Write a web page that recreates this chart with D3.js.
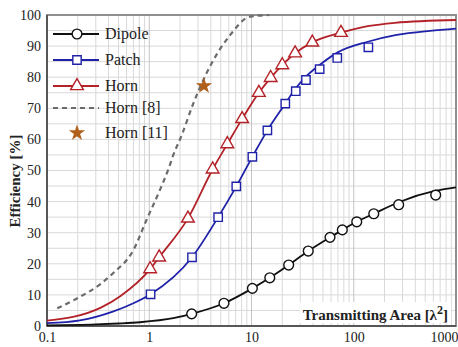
<!DOCTYPE html>
<html>
<head>
<meta charset="utf-8">
<script src="https://cdn.jsdelivr.net/npm/d3@7"></script>
<style>
  body { margin: 0; background: #fff; }
  svg { display: block; }
  svg text { font-family: 'Liberation Serif', 'Times New Roman', Times, serif !important; }
</style>
</head>
<body>
<svg id="chart" width="458" height="347"></svg>
<script>
// x values are transmitting area in lambda^2, y values are efficiency in %
var dipoleCurveX = [0.1, 0.3, 0.5, 0.81, 1.72, 2.6, 5.38, 10.2, 15.1, 23.1, 35.9, 58.6, 77.3, 107, 157, 275, 633, 1000]
var dipoleCurveY = [0.2, 0.5, 0.8, 1.2, 2.5, 3.9, 7.3, 12.1, 15.5, 19.6, 24.1, 28.5, 30.9, 33.5, 36.1, 39.8, 43.5, 44.6]
var dipoleMarkX = [2.6, 5.38, 10.2, 15.1, 23.1, 35.9, 58.6, 77.3, 107, 157, 275, 633]
var dipoleMarkY = [3.9, 7.3, 12.1, 15.5, 19.6, 24.1, 28.5, 30.9, 33.5, 36.1, 39.0, 42.1]

var patchCurveX = [0.1, 0.21, 0.44, 0.7, 1.03, 2.62, 4.72, 7.1, 10.2, 14.3, 21.4, 26.6, 34.1, 46.3, 69, 137, 263, 557, 1000]
var patchCurveY = [0.9, 1.8, 4.6, 7.3, 10.2, 22.1, 35.0, 44.9, 54.4, 62.9, 71.5, 76.1, 80.2, 83.9, 87.9, 91.4, 93.6, 94.9, 95.6]
var patchMarkX = [1.03, 2.62, 4.72, 7.1, 10.2, 14.3, 21.4, 27.1, 34.1, 46.4, 69, 139]
var patchMarkY = [10.2, 22.1, 35.0, 44.9, 54.4, 62.9, 71.5, 75.5, 79.1, 82.6, 86.2, 89.6]

var hornCurveX = [0.1, 0.34, 0.52, 1.02, 1.25, 2.39, 4.17, 5.8, 8.1, 11.8, 15.4, 20, 26.7, 39.3, 75, 137, 252, 1000]
var hornCurveY = [1.7, 6.0, 9.6, 18.3, 22.1, 34.6, 50.4, 58.5, 66.6, 75.0, 79.8, 83.9, 87.7, 91.2, 94.3, 96.4, 97.5, 98.4]
var hornMarkX = [1.02, 1.25, 2.39, 4.17, 5.8, 8.1, 11.8, 15.4, 20, 26.7, 39.3, 75]
var hornMarkY = [18.3, 22.1, 34.6, 50.4, 58.5, 66.6, 75.0, 79.8, 83.9, 87.7, 91.2, 94.3]

var horn8X = [0.126, 0.2, 0.34, 0.44, 0.7, 0.94, 1.27, 1.53, 1.72, 2.08, 2.7, 4.08, 6.2, 9.7, 15]
var horn8Y = [5.7, 9.0, 13.7, 16.9, 24.4, 34.1, 43.7, 50.2, 55.0, 61.4, 71.6, 84.5, 93.6, 99.5, 100]

var horn11X = [3.43]
var horn11Y = [77.2]

var xTicks = [0.1, 1, 10, 100, 1000]
var xTickLabels = ['0.1', '1', '10', '100', '1000']
var yTicks = [0, 10, 20, 30, 40, 50, 60, 70, 80, 90, 100]
var legendNames = ['Dipole', 'Patch', 'Horn', 'Horn [8]', 'Horn [11]']

var margin = { top: 15, right: 2, bottom: 21, left: 47 }
var width = 458 - margin.left - margin.right
var height = 347 - margin.top - margin.bottom
var serif = "'Liberation Serif', 'Times New Roman', serif"

var svg = d3.select('#chart')
var g = svg.append('g').attr('transform', 'translate(' + margin.left + ',' + margin.top + ')')

var x = d3.scaleLog().domain([0.1, 1000]).range([0, width])
var y = d3.scaleLinear().domain([0, 100]).range([height, 0])

// grid
var minorX = []
d3.range(-1, 3).forEach(e => {
  for (var k = 2; k <= 9; k++) minorX.push(k * Math.pow(10, e))
})
g.append('g')
  .selectAll('line')
  .data(minorX)
  .enter()
  .append('line')
  .attr('x1', d => x(d)).attr('x2', d => x(d))
  .attr('y1', 0).attr('y2', height)
  .attr('stroke', '#d9d9d9').attr('stroke-width', 1)
g.append('g')
  .selectAll('line')
  .data(d3.range(5, 100, 5))
  .enter()
  .append('line')
  .attr('x1', 0).attr('x2', width)
  .attr('y1', d => y(d)).attr('y2', d => y(d))
  .attr('stroke', '#d9d9d9').attr('stroke-width', 1)
g.append('g')
  .selectAll('line')
  .data(xTicks.slice(1, 4))
  .enter()
  .append('line')
  .attr('x1', d => x(d)).attr('x2', d => x(d))
  .attr('y1', 0).attr('y2', height)
  .attr('stroke', '#c4c4c4').attr('stroke-width', 1)

// white box behind the x title (sized later)
var titleBox = g.append('rect').attr('fill', '#fff')

// frame
g.append('rect')
  .attr('x', 0).attr('y', 0).attr('width', width).attr('height', height)
  .attr('fill', 'none').attr('stroke', '#8f8f8f').attr('stroke-width', 2)
g.append('line').attr('x1', 0).attr('x2', 0).attr('y1', 0).attr('y2', height)
  .attr('stroke', '#444').attr('stroke-width', 1.5)
g.append('line').attr('x1', 0).attr('x2', width).attr('y1', height).attr('y2', height)
  .attr('stroke', '#444').attr('stroke-width', 1.5)

// axes labels
var yAxis = d3.axisLeft(y).tickValues(yTicks).tickSize(0).tickPadding(6)
g.append('g').call(yAxis)
  .attr('font-family', serif)
  .call(s => s.select('.domain').remove())
  .selectAll('text')
  .attr('font-size', 14).attr('fill', '#222')

var xAxis = d3.axisBottom(x).tickValues(xTicks).tickFormat((d, i) => xTickLabels[i]).tickSize(0).tickPadding(6)
g.append('g').attr('transform', 'translate(0,' + height + ')').call(xAxis)
  .attr('font-family', serif)
  .call(s => s.select('.domain').remove())
  .selectAll('text')
  .attr('font-size', 14).attr('fill', '#222')
  .attr('text-anchor', (d, i) => i === xTicks.length - 1 ? 'end' : 'middle')
  .attr('dx', (d, i) => i === xTicks.length - 1 ? 2 : 0)

var line = d3.line().x(d => x(d[0])).y(d => y(d[1])).curve(d3.curveMonotoneX)
var zip = (xs, ys) => xs.map((v, i) => [v, ys[i]])

var blue = '#1f22a8'
var red = '#b32228'
var gray = '#6b6b6b'
var star = '#b0601a'

// curves
g.append('path').datum(zip(horn8X, horn8Y)).attr('d', line)
  .attr('fill', 'none').attr('stroke', gray).attr('stroke-width', 2.2).attr('stroke-dasharray', '5,4')
g.append('path').datum(zip(dipoleCurveX, dipoleCurveY)).attr('d', line)
  .attr('fill', 'none').attr('stroke', '#111').attr('stroke-width', 1.8)
g.append('path').datum(zip(patchCurveX, patchCurveY)).attr('d', line)
  .attr('fill', 'none').attr('stroke', blue).attr('stroke-width', 1.8)
g.append('path').datum(zip(hornCurveX, hornCurveY)).attr('d', line)
  .attr('fill', 'none').attr('stroke', red).attr('stroke-width', 1.8)

// markers
var circleSym = d3.symbol().type(d3.symbolCircle).size(75)
var squareSym = d3.symbol().type(d3.symbolSquare).size(70)
var triSym = d3.symbol().type(d3.symbolTriangle).size(70)
var starSym = d3.symbol().type(d3.symbolStar).size(45)

function markers(data, sym, stroke, fill) {
  g.append('g')
    .selectAll('path')
    .data(data)
    .enter()
    .append('path')
    .attr('transform', d => 'translate(' + x(d[0]) + ',' + y(d[1]) + ')')
    .attr('d', sym)
    .attr('fill', fill).attr('stroke', stroke).attr('stroke-width', 1.4)
}
markers(zip(dipoleMarkX, dipoleMarkY), circleSym, '#111', '#fff')
markers(zip(patchMarkX, patchMarkY), squareSym, blue, '#fff')
markers(zip(hornMarkX, hornMarkY), triSym, red, '#fff')
markers(zip(horn11X, horn11Y), starSym, star, star)

// legend
var legend = g.append('g').attr('transform', 'translate(6,19)')
var legItems = legend.selectAll('g')
  .data(legendNames)
  .enter()
  .append('g')
  .attr('transform', (d, i) => 'translate(0,' + [0, 26, 52, 74, 99][i] + ')')
legItems.append('text')
  .attr('x', 52).attr('y', 5)
  .attr('font-family', serif)
  .attr('font-size', 16).attr('fill', '#222')
  .text(d => d)
var legStroke = ['#111', blue, red, gray]
legItems.filter((d, i) => i < 4).append('line')
  .attr('x1', 0).attr('x2', 46).attr('y1', 0).attr('y2', 0)
  .attr('stroke', (d, i) => legStroke[i]).attr('stroke-width', (d, i) => i === 3 ? 2.2 : 1.8)
  .attr('stroke-dasharray', (d, i) => i === 3 ? '5,4' : null)
var legSym = [circleSym, squareSym, triSym, null, starSym]
var legFill = ['#fff', '#fff', '#fff', null, star]
var legSymStroke = ['#111', blue, red, null, star]
legItems.filter((d, i) => i !== 3).append('path')
  .attr('transform', 'translate(24,0)')
  .attr('d', d => legSym[legendNames.indexOf(d)]())
  .attr('fill', d => legFill[legendNames.indexOf(d)])
  .attr('stroke', d => legSymStroke[legendNames.indexOf(d)])
  .attr('stroke-width', 1.4)

// axis titles
var xt = g.append('text')
  .attr('x', width - 8).attr('y', height - 6)
  .attr('text-anchor', 'end')
  .attr('font-family', serif)
  .attr('font-size', 15).attr('font-weight', 'bold').attr('fill', '#222')
xt.append('tspan').text('Transmitting Area [\u03bb')
xt.append('tspan').attr('dy', -6).attr('font-size', 12).text('2')
xt.append('tspan').attr('dy', 6).text(']')
var bb = xt.node().getBBox()
titleBox
  .attr('x', bb.x - 3).attr('y', bb.y - 1).attr('width', bb.width + 6).attr('height', bb.height + 1)

svg.append('text')
  .attr('transform', 'translate(20,181) rotate(-90)')
  .attr('text-anchor', 'middle')
  .attr('font-family', serif)
  .attr('font-size', 15).attr('font-weight', 'bold').attr('fill', '#222')
  .text('Efficiency [%]')
</script>
</body>
</html>
